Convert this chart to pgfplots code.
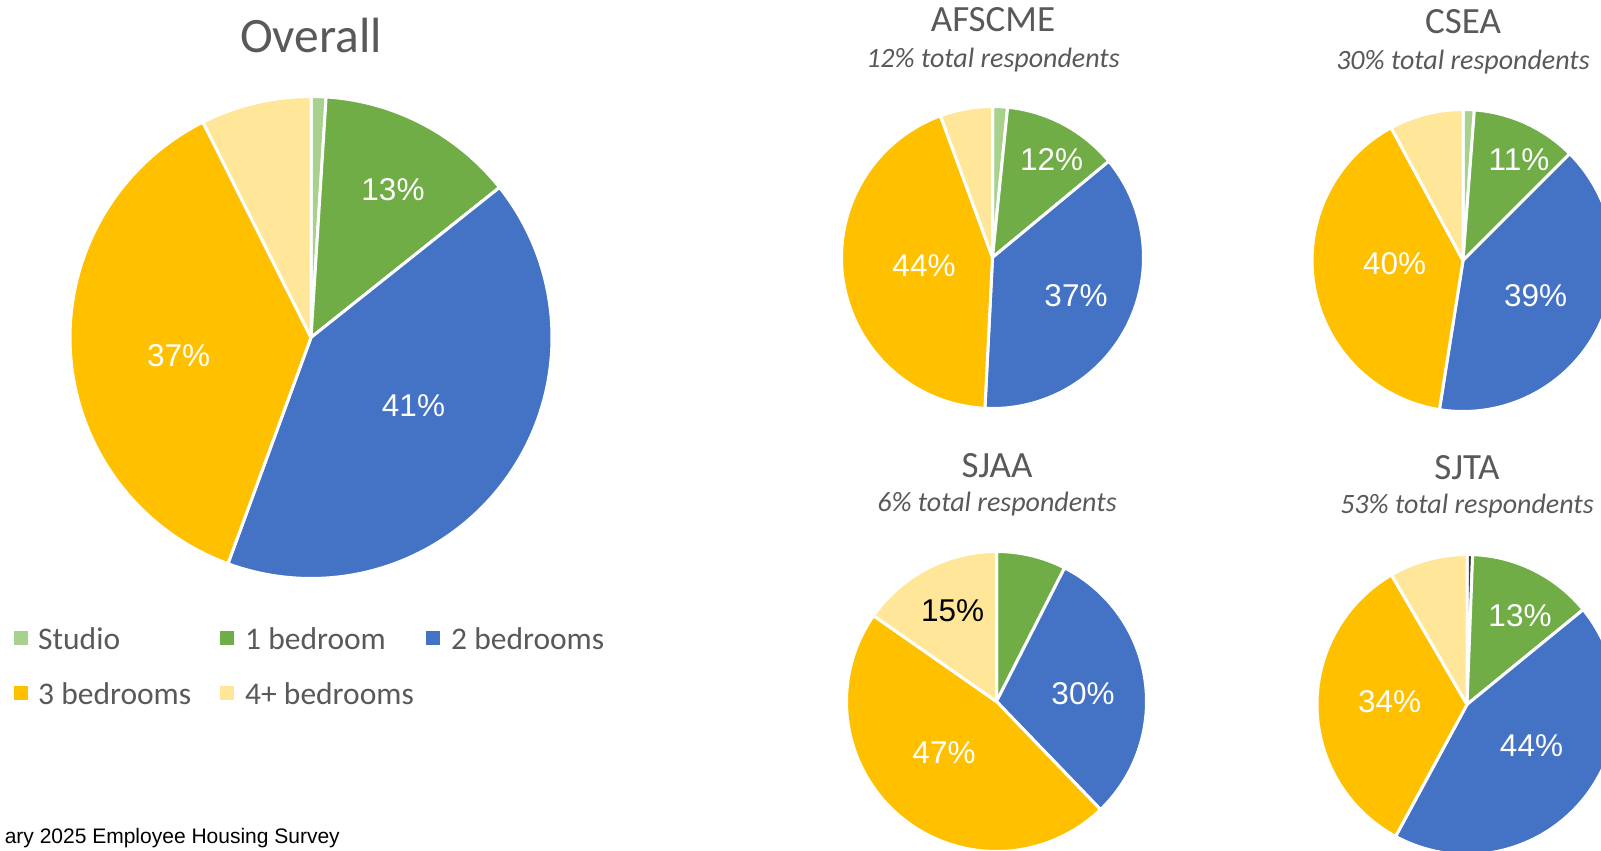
\documentclass[border=0pt]{standalone}
\usepackage{pgfplots}
\pgfplotsset{compat=1.18}
\usepackage{fontspec}
\setmainfont{Carlito}
\newfontfamily\arialfont{Liberation Sans}
\definecolor{cStudio}{HTML}{A9D18E}
\definecolor{cOne}{HTML}{70AD47}
\definecolor{cTwo}{HTML}{4472C4}
\definecolor{cThree}{HTML}{FFC000}
\definecolor{cFour}{HTML}{FFE699}
\definecolor{cDark}{HTML}{3A3A3A}
\definecolor{txt}{HTML}{595959}

% one wedge: cx, cy, r, start angle, end angle (clockwise from 12 o'clock), colour
\newcommand{\slice}[6]{%
  \addplot[draw=white, line width=3pt, line join=round, fill=#6, domain=#4:#5, samples=90, variable=\t]
    ({#1+#3*sin(\t)}, {#2-#3*cos(\t)}) -- (axis cs:#1,#2) -- cycle;
}
% one pie: cx, cy, r, Studio, 1 bedroom, 2 bedrooms, 3 bedrooms, 4+ bedrooms (percent), studio colour
\newcommand{\pie}[9]{%
  \pgfmathsetmacro\aA{3.6*#4}%
  \pgfmathsetmacro\aB{3.6*(#4+#5)}%
  \pgfmathsetmacro\aC{3.6*(#4+#5+#6)}%
  \pgfmathsetmacro\aD{3.6*(#4+#5+#6+#7)}%
  \ifdim #4pt>0pt \slice{#1}{#2}{#3}{0}{\aA}{#9}\fi
  \slice{#1}{#2}{#3}{\aA}{\aB}{cOne}
  \slice{#1}{#2}{#3}{\aB}{\aC}{cTwo}
  \slice{#1}{#2}{#3}{\aC}{\aD}{cThree}
  \slice{#1}{#2}{#3}{\aD}{360}{cFour}
}

\begin{document}
\begin{tikzpicture}
\begin{axis}[name=ax, scale only axis, width=1601pt, height=851pt,
  xmin=0, xmax=1601, ymin=0, ymax=851, y dir=reverse, hide axis, clip=true]

% ---- pies (values in percent) ----
\pie{311}{337.5}{241}{1.0}{13.3}{41.3}{37.0}{7.4}{cStudio}   % Overall
\pie{992.5}{257.5}{151}{1.6}{12.4}{36.8}{43.6}{5.6}{cStudio} % AFSCME
\pie{1463}{260.5}{151}{1.2}{11.3}{40.0}{39.6}{7.9}{cStudio}  % CSEA
\pie{996.5}{701.5}{150}{0}{7.5}{30.3}{46.9}{15.3}{cStudio}   % SJAA
\pie{1467}{704.5}{150}{0.6}{13.5}{43.8}{33.7}{8.4}{cDark}    % SJTA

% ---- titles ----
\node[anchor=base, text=txt, font=\fontsize{49.5}{59}\selectfont, inner sep=0] at (axis cs:311,53) {Overall};
\node[anchor=base, text=txt, font=\fontsize{37}{44}\selectfont, inner sep=0] at (axis cs:993,32) {AFSCME};
\node[anchor=base, text=txt, font=\itshape\fontsize{28}{33}\selectfont, inner sep=0] at (axis cs:993,67.5) {12\% total respondents};
\node[anchor=base, text=txt, font=\fontsize{37}{44}\selectfont, inner sep=0] at (axis cs:1463,34) {CSEA};
\node[anchor=base, text=txt, font=\itshape\fontsize{28}{33}\selectfont, inner sep=0] at (axis cs:1463,70) {30\% total respondents};
\node[anchor=base, text=txt, font=\fontsize{37}{44}\selectfont, inner sep=0] at (axis cs:997,477) {SJAA};
\node[anchor=base, text=txt, font=\itshape\fontsize{28}{33}\selectfont, inner sep=0] at (axis cs:997,511) {6\% total respondents};
\node[anchor=base, text=txt, font=\fontsize{37}{44}\selectfont, inner sep=0] at (axis cs:1467,479) {SJTA};
\node[anchor=base, text=txt, font=\itshape\fontsize{28}{33}\selectfont, inner sep=0] at (axis cs:1467,513) {53\% total respondents};

% ---- data labels ----
\begin{scope}[every node/.style={font=\arialfont\fontsize{31.5}{38}\selectfont, text=white, inner sep=0}]
\node at (axis cs:393,190) {13\%};
\node at (axis cs:413.5,406) {41\%};
\node at (axis cs:178.7,356) {37\%};
\node at (axis cs:1051.6,160) {12\%};
\node at (axis cs:1076,296) {37\%};
\node at (axis cs:924,265.5) {44\%};
\node at (axis cs:1519,160) {11\%};
\node at (axis cs:1535.6,296) {39\%};
\node at (axis cs:1394.7,263.4) {40\%};
\node[text=black] at (axis cs:952.6,610.6) {15\%};
\node at (axis cs:1083,694) {30\%};
\node at (axis cs:944,752.5) {47\%};
\node at (axis cs:1520,615.7) {13\%};
\node at (axis cs:1531.5,746) {44\%};
\node at (axis cs:1389.6,701.4) {34\%};
\end{scope}

% ---- legend ----
\addplot[only marks, mark=square*, mark size=6.5pt, color=cStudio] coordinates {(21,638)};
\addplot[only marks, mark=square*, mark size=6.5pt, color=cOne] coordinates {(227,638)};
\addplot[only marks, mark=square*, mark size=6.5pt, color=cTwo] coordinates {(433,638)};
\addplot[only marks, mark=square*, mark size=6.5pt, color=cThree] coordinates {(21,693)};
\addplot[only marks, mark=square*, mark size=6.5pt, color=cFour] coordinates {(227,693)};
\begin{scope}[every node/.style={anchor=base west, font=\fontsize{31.5}{38}\selectfont, text=txt, inner sep=0}]
\node at (axis cs:38,649) {Studio};
\node at (axis cs:245,649) {1 bedroom};
\node at (axis cs:451,649) {2 bedrooms};
\node at (axis cs:38,704) {3 bedrooms};
\node at (axis cs:245,704) {4+ bedrooms};
\end{scope}

% ---- footer ----
\node[anchor=base east, font=\arialfont\fontsize{21}{25}\selectfont, text=black, inner sep=0] at (axis cs:340,843) {ary 2025 Employee Housing Survey};
\end{axis}
\pgfresetboundingbox
\useasboundingbox (ax.south west) rectangle (ax.north east);
\end{tikzpicture}
\end{document}
